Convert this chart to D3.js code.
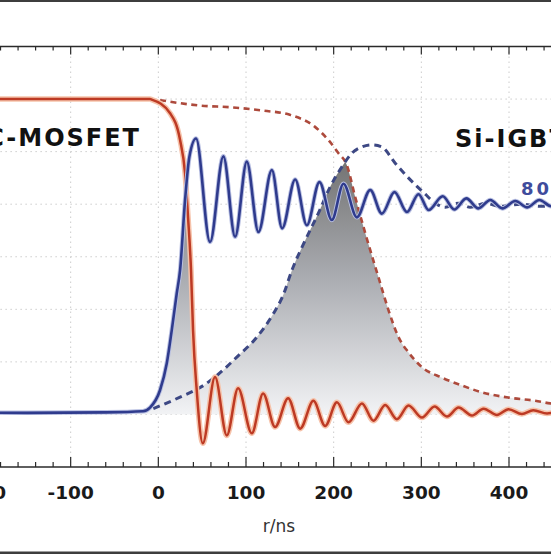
<!DOCTYPE html>
<html>
<head>
<meta charset="utf-8">
<script src="https://cdn.jsdelivr.net/npm/d3@7"></script>
<style>
  html, body { margin: 0; padding: 0; background: #fff; }
  svg { display: block; }
</style>
</head>
<body>
<svg id="chart"></svg>
<script>
// turn-off waveforms, normalised units (0 = baseline, 4 = 800 V, 6 = full current)
// [time in ns, level]
const sicCurrent = [
  [-260, 6.0], [-100, 6.0], [-9.5, 6.0], [-7.5, 5.99], [13.4, 5.73], [24.8, 5.22],
  [30.5, 4.59], [33.9, 3.75], [37.3, 2.74], [39.6, 1.6], [43.8, 0.46],
  [50.7, -0.55], [64.7, 0.71], [78.1, -0.4], [91.0, 0.5], [106.6, -0.36],
  [119.5, 0.4], [133.2, -0.24], [148.1, 0.31], [161.8, -0.27], [176.9, 0.26],
  [190.3, -0.22], [203.7, 0.23], [216.9, -0.15], [232.2, 0.21], [245.4, -0.12],
  [258.8, 0.18], [272.1, -0.09], [285.4, 0.17], [300.7, -0.06], [315.1, 0.15],
  [329.2, -0.04], [342.5, 0.13], [357.8, -0.02], [371.0, 0.11], [386.3, -0.01],
  [399.5, 0.1], [414.8, 0.01], [427.7, 0.08], [443.4, 0.02], [458.6, 0.06]
];

const sicVoltage = [
  [-260, 0.04], [-150, 0.03], [-60, 0.04], [-17.5, 0.06], [-9.5, 0.13],
  [1.9, 0.46], [9.6, 0.97], [15.3, 1.6], [21.0, 2.3], [24.8, 2.74],
  [30.5, 4.08], [35.4, 4.9], [43.0, 5.25], [59.0, 3.28], [74.2, 4.91],
  [87.6, 3.38], [100.9, 4.81], [114.2, 3.47], [129.5, 4.65], [141.2, 3.54],
  [156.1, 4.47], [169.4, 3.6], [183.8, 4.42], [197.9, 3.7], [211.2, 4.39],
  [226.5, 3.75], [241.7, 4.27], [255.0, 3.82], [269.4, 4.23], [283.6, 3.85],
  [296.8, 4.19], [308.2, 3.89], [324.4, 4.15], [337.6, 3.9], [351.3, 4.11],
  [365.0, 3.92], [378.7, 4.08], [392.4, 3.92], [407.2, 4.06], [420.9, 3.94],
  [434.6, 4.08], [448.3, 3.96], [462.0, 4.04]
];

const igbtCurrent = [
  [2, 5.98], [45, 5.88], [85, 5.84], [120, 5.78], [150, 5.7], [178, 5.48],
  [194, 5.22], [205.5, 4.97], [215.1, 4.74], [224.5, 4.14], [236.0, 3.45],
  [247.4, 2.81], [251.1, 2.61], [262.6, 1.98], [274.0, 1.47], [285.4, 1.18],
  [300.7, 0.9], [323.5, 0.7], [346.3, 0.55], [369.2, 0.42], [399.5, 0.32],
  [430.0, 0.26], [447.1, 0.21], [464.0, 0.18]
];

const igbtVoltage = [
  [-5.7, 0.11], [24.8, 0.33], [51.4, 0.55], [66.7, 0.74], [89.5, 1.09],
  [112.3, 1.47], [131.3, 1.92], [142.4, 2.27], [152.3, 2.74], [167.5, 3.31],
  [182.6, 3.83], [196.0, 4.33], [209.4, 4.71], [220.8, 4.97], [232.2, 5.09],
  [243.6, 5.13], [255.0, 5.09], [270.2, 4.78], [283.6, 4.53], [295.0, 4.34],
  [304.5, 4.19], [315.9, 4.02], [327.3, 3.94], [342.0, 4.02], [355.8, 3.94],
  [372.9, 4.02], [390.0, 3.96], [412.9, 4.0], [435.7, 3.96], [458.6, 4.0]
];

const xTickValues = [-200, -100, 0, 100, 200, 300, 400];
const yGridValues = [0, 1, 2, 3, 4, 5, 6];
const deviceLabels = ["SiC-MOSFET", "Si-IGBT"];
const voltageLabel = "800V";
const xTitle = "r/ns";

const width = 551;
const height = 554;

const svg = d3.select("#chart")
  .attr("width", width)
  .attr("height", height);

const x = d3.scaleLinear().domain([-200, 400]).range([-17, 509]);
const y = d3.scaleLinear().domain([-1, 7]).range([467, 46.5]);

const xMin = -260, xMax = 480;

// picture border
svg.append("rect").attr("x", 0).attr("y", 0).attr("width", width).attr("height", 2).attr("fill", "#3d3d3d");
svg.append("rect").attr("x", 0).attr("y", height - 2.5).attr("width", width).attr("height", 2.5).attr("fill", "#3d3d3d");

// grid
svg.append("g")
  .selectAll("line")
  .data(yGridValues)
  .join("line")
  .attr("x1", x(xMin)).attr("x2", x(xMax))
  .attr("y1", d => y(d)).attr("y2", d => y(d))
  .attr("stroke", "#cccccc")
  .attr("stroke-width", 1)
  .attr("stroke-dasharray", "1.5,3.5");

svg.append("g")
  .selectAll("line")
  .data(xTickValues)
  .join("line")
  .attr("x1", d => x(d)).attr("x2", d => x(d))
  .attr("y1", y(7)).attr("y2", y(-1))
  .attr("stroke", "#cccccc")
  .attr("stroke-width", 1)
  .attr("stroke-dasharray", "1.5,3.5");

// loss area gradient
const defs = svg.append("defs");
const grad = defs.append("linearGradient")
  .attr("id", "lossGrad")
  .attr("gradientUnits", "userSpaceOnUse")
  .attr("x1", 0).attr("x2", 0)
  .attr("y1", y(4.8)).attr("y2", y(0));
grad.append("stop").attr("offset", 0).attr("stop-color", "#747474");
grad.append("stop").attr("offset", 0.45).attr("stop-color", "#a9abb0");
grad.append("stop").attr("offset", 1).attr("stop-color", "#f2f3f5");

const areaUnder = d3.area()
  .x(d => x(d[0]))
  .y0(y(0))
  .y1(d => y(d[1]))
  .curve(d3.curveMonotoneX);

const clips = [
  ["clipSicV", sicVoltage], ["clipSicI", sicCurrent],
  ["clipIgbtV", igbtVoltage], ["clipIgbtI", igbtCurrent]
];
clips.forEach(([id, data]) => {
  defs.append("clipPath").attr("id", id)
    .append("path").attr("d", areaUnder(data));
});

// overlap of voltage and current = switching loss
[["clipSicV", "clipSicI"], ["clipIgbtV", "clipIgbtI"]].forEach(([a, b]) => {
  svg.append("g").attr("clip-path", `url(#${a})`)
    .append("g").attr("clip-path", `url(#${b})`)
    .append("rect")
    .attr("x", 0).attr("y", y(7))
    .attr("width", width).attr("height", y(-1) - y(7))
    .attr("fill", "url(#lossGrad)");
});

const line = d3.line()
  .x(d => x(d[0]))
  .y(d => y(d[1]))
  .curve(d3.curveMonotoneX);

// Si-IGBT (dashed)
svg.append("path")
  .attr("d", line(igbtCurrent))
  .attr("fill", "none")
  .attr("stroke", "#ad4a3c")
  .attr("stroke-width", 2.6)
  .attr("stroke-dasharray", "6,4.5");

svg.append("path")
  .attr("d", line(igbtVoltage))
  .attr("fill", "none")
  .attr("stroke", "#3d4884")
  .attr("stroke-width", 3)
  .attr("stroke-dasharray", "7,5");

// SiC-MOSFET (solid, with soft halo)
svg.append("path")
  .attr("d", line(sicCurrent))
  .attr("fill", "none")
  .attr("stroke", "#f6c3ab")
  .attr("stroke-width", 5.5);
svg.append("path")
  .attr("d", line(sicCurrent))
  .attr("fill", "none")
  .attr("stroke", "#bd3a24")
  .attr("stroke-width", 2.5);

svg.append("path")
  .attr("d", line(sicVoltage))
  .attr("fill", "none")
  .attr("stroke", "#b9c0e2")
  .attr("stroke-width", 4.5);
svg.append("path")
  .attr("d", line(sicVoltage))
  .attr("fill", "none")
  .attr("stroke", "#2f3b8d")
  .attr("stroke-width", 2.6);

// frame and ticks
const frame = svg.append("g").attr("stroke", "#2a2a2a");
frame.append("line")
  .attr("x1", x(xMin)).attr("x2", x(xMax))
  .attr("y1", y(7)).attr("y2", y(7))
  .attr("stroke-width", 1.5);
frame.append("line")
  .attr("x1", x(xMin)).attr("x2", x(xMax))
  .attr("y1", y(-1)).attr("y2", y(-1))
  .attr("stroke-width", 1.5);

const minorTicks = d3.range(-240, 480, 20);
frame.selectAll(".tb")
  .data(minorTicks)
  .join("line")
  .attr("x1", d => x(d)).attr("x2", d => x(d))
  .attr("y1", y(-1))
  .attr("y2", d => y(-1) - (d % 100 === 0 ? 10 : 5))
  .attr("stroke-width", 1.2);
frame.selectAll(".tt")
  .data(minorTicks)
  .join("line")
  .attr("x1", d => x(d)).attr("x2", d => x(d))
  .attr("y1", y(7))
  .attr("y2", d => y(7) + (d % 100 === 0 ? 8 : 4))
  .attr("stroke-width", 1.2);

// tick labels
svg.append("g")
  .selectAll("text")
  .data(xTickValues)
  .join("text")
  .attr("x", d => x(d))
  .attr("y", 498.5)
  .attr("text-anchor", "middle")
  .attr("font-family", "DejaVu Sans, sans-serif")
  .attr("font-weight", "bold")
  .attr("font-size", "18.5px")
  .attr("fill", "#1a1a1a")
  .text(d => d);

svg.append("text")
  .attr("x", 279)
  .attr("y", 532)
  .attr("text-anchor", "middle")
  .attr("font-family", "DejaVu Sans, sans-serif")
  .attr("font-size", "17px")
  .attr("fill", "#333")
  .text(xTitle);

// device labels
svg.append("text")
  .attr("x", 141)
  .attr("y", 146)
  .attr("text-anchor", "end")
  .attr("font-family", "DejaVu Sans, sans-serif")
  .attr("font-weight", "bold")
  .attr("font-size", "24px")
  .attr("letter-spacing", "2px")
  .attr("fill", "#111")
  .text(deviceLabels[0]);

svg.append("text")
  .attr("x", 455)
  .attr("y", 146.5)
  .attr("font-family", "DejaVu Sans, sans-serif")
  .attr("font-weight", "bold")
  .attr("font-size", "24px")
  .attr("letter-spacing", "2px")
  .attr("fill", "#111")
  .text(deviceLabels[1]);

svg.append("text")
  .attr("x", 521)
  .attr("y", 195)
  .attr("font-family", "DejaVu Sans, sans-serif")
  .attr("font-weight", "bold")
  .attr("font-size", "18px")
  .attr("letter-spacing", "3px")
  .attr("fill", "#3f4c9c")
  .text(voltageLabel);
</script>
</body>
</html>
